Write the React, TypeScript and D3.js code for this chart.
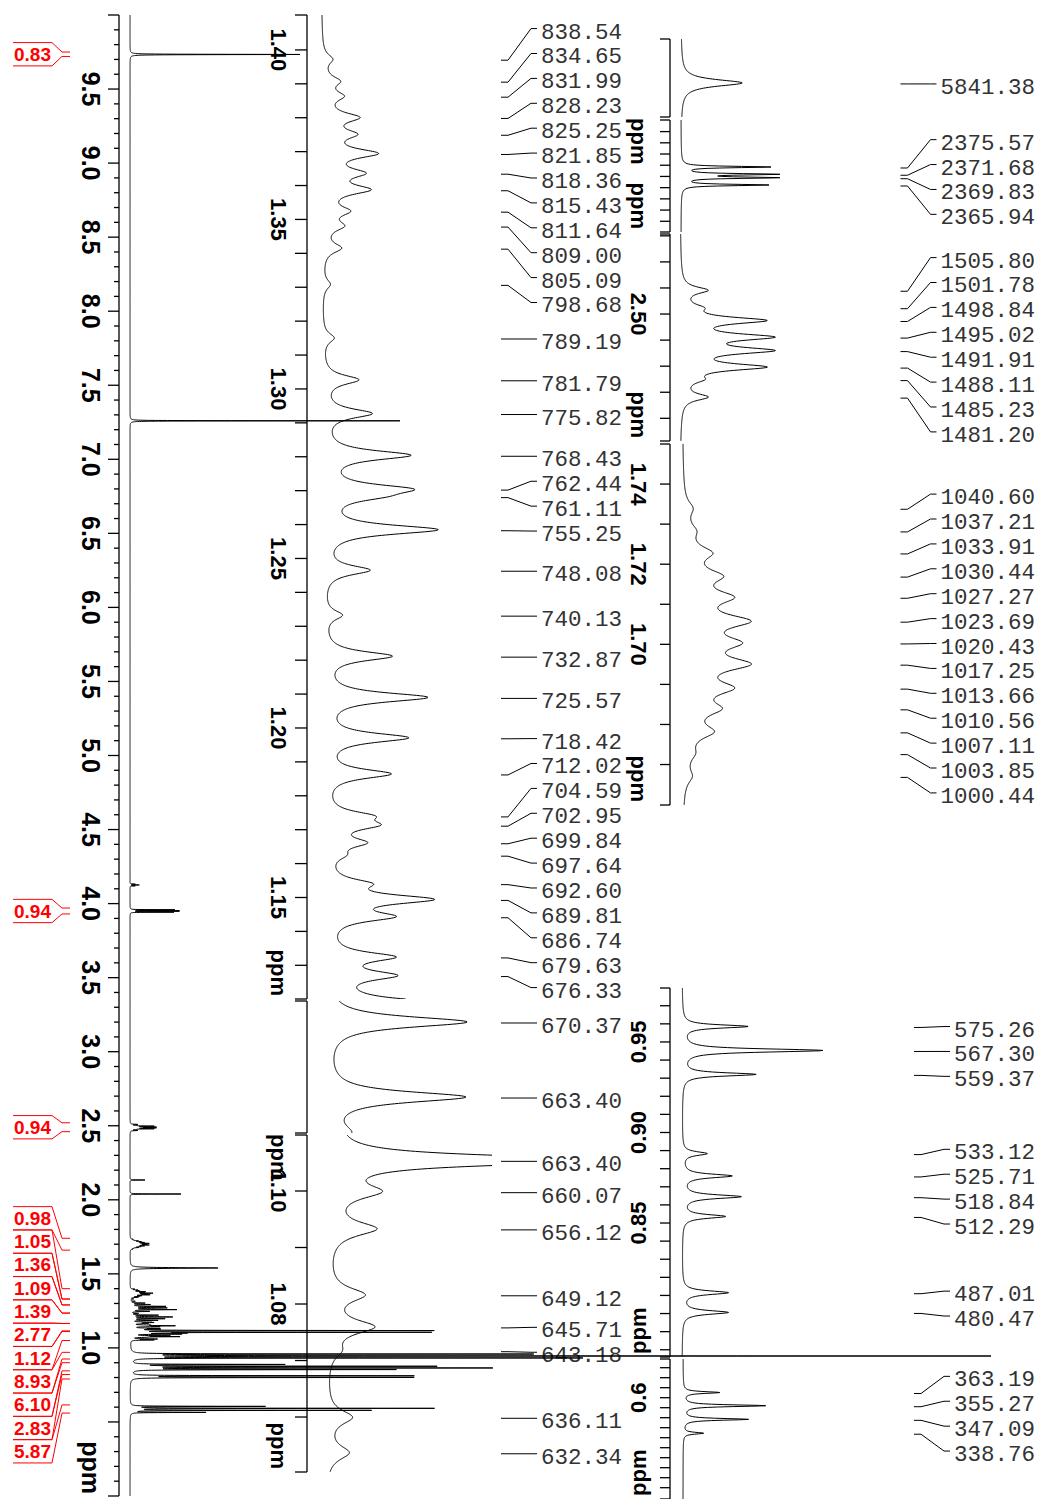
import React from 'react';
import * as d3 from 'd3';

const SF = 600.13;

// ---------- peak data (Hz, intensity) ----------
const aldehydeHz = [5841.38];
const aldehydeInt = [170];
const solventHz = [4356.9];
const solventInt = [270];
const m412Hz = [2479.5, 2476.0, 2472.5];
const m412Int = [5, 9, 5];
const quartetHz = [2375.57, 2371.68, 2369.83, 2365.94];
const quartetInt = [44, 46, 46, 43];
const m250Hz = [1505.8, 1501.78, 1498.84, 1495.02, 1491.91, 1488.11, 1485.23, 1481.2];
const m250Int = [7, 4, 22, 23, 23, 22, 4, 7];
const s213Hz = [1280.5];
const s213Int = [15];
const s204Hz = [1223.7];
const s204Int = [51];
const waterHz = [924.0];
const waterInt = [88];
const m172Hz = [1040.6, 1037.21, 1033.91, 1030.44, 1027.27, 1023.69, 1020.43, 1017.25, 1013.66, 1010.56, 1007.11, 1003.85, 1000.44];
const m172Int = [2.2, 2.4, 6.5, 8.5, 11, 15.5, 12, 15.5, 11, 8, 7, 2, 2];
const m135Hz = [838.54, 834.65, 831.99, 828.23, 825.25, 821.85, 818.36, 815.43, 811.64, 809.0, 805.09, 798.68, 789.19, 781.79, 775.82];
const m135Int = [3.8, 6, 7, 13, 11, 20, 14, 17, 9, 7, 7, 3, 4.5, 14, 19];
const m122Hz = [768.43, 762.44, 761.11, 755.25, 748.08, 740.13, 732.87, 725.57, 718.42, 712.02, 704.59, 702.95, 699.84, 697.64, 692.6, 689.81, 686.74, 679.63, 676.33];
const m122Int = [34, 30, 14, 45, 18, 7, 27, 41, 33, 26, 15, 17, 14, 5, 14, 40, 24, 25, 24];
const m111Hz = [670.37, 663.4];
const m111Int = [300, 295];
const m107Hz = [660.07, 656.12, 649.12, 645.71, 643.18, 636.11, 632.34];
const m107Int = [44, 46, 35, 45, 10, 25, 22];
const t095Hz = [575.26, 567.3, 559.37];
const t095Int = [397, 855, 446];
const m087Hz = [533.12, 525.71, 518.84, 512.29];
const m087Int = [150, 300, 355, 260];
const d081Hz = [487.01, 480.47];
const d081Int = [280, 280];
const m058Hz = [363.19, 355.27, 347.09, 338.76];
const m058Int = [133, 302, 239, 74];

// ---------- integrals ----------
const integralValues = ['0.83', '0.94', '0.94', '0.98', '1.05', '1.36', '1.09', '1.39', '2.77', '1.12', '8.93', '6.10', '2.83', '5.87'];
const integralFrom = [9.75, 3.97, 2.52, 1.74, 1.4, 1.33, 1.29, 1.235, 1.165, 1.11, 0.97, 0.9, 0.82, 0.615];
const integralTo = [9.72, 3.93, 2.46, 1.66, 1.33, 1.29, 1.235, 1.165, 1.115, 1.05, 0.925, 0.845, 0.79, 0.56];

// ---------- inset label lists ----------
const labelsA = [...m135Hz, ...m122Hz];
const labelsB = [...m111Hz];
const labelsC = [663.4, ...m107Hz];
const labelsD1 = [...aldehydeHz];
const labelsD2 = [...quartetHz];
const labelsE = [...m250Hz];
const labelsF = [...m172Hz];
const labelsG = [...t095Hz, ...m087Hz, ...d081Hz];
const labelsH = [...m058Hz];

type Peak = { ppm: number; h: number; w: number };
const groups: [number[], number[], number][] = [
  [aldehydeHz, aldehydeInt, 1.5],
  [solventHz, solventInt, 1.0],
  [m412Hz, m412Int, 1.2],
  [quartetHz, quartetInt, 0.9],
  [m250Hz, m250Int, 1.8],
  [s213Hz, s213Int, 1.2],
  [s204Hz, s204Int, 1.0],
  [waterHz, waterInt, 3.0],
  [m172Hz, m172Int, 2.4],
  [m135Hz, m135Int, 2.0],
  [m122Hz, m122Int, 2.0],
  [m111Hz, m111Int, 1.2],
  [m107Hz, m107Int, 1.8],
  [t095Hz, t095Int, 1.3],
  [m087Hz, m087Int, 1.5],
  [d081Hz, d081Int, 1.5],
  [m058Hz, m058Int, 1.3],
];
const PEAKS: Peak[] = groups.flatMap(([hz, ints, w]) => hz.map((f, i) => ({ ppm: f / SF, h: ints[i], w })));

function spec(ppm: number): number {
  let s = 0;
  for (const p of PEAKS) {
    const d = (2 * (ppm - p.ppm) * SF) / p.w;
    s += p.h / (1 + d * d);
  }
  return s;
}

function spread(ideal: number[], gap: number, shiftMulti = 0): number[] {
  type C = { start: number; n: number; s: number; t: number };
  const cs: C[] = [];
  ideal.forEach((y, i) => {
    let c: C = { start: i, n: 1, s: y, t: y };
    while (cs.length) {
      const p = cs[cs.length - 1];
      if (p.t + p.n * gap > c.t) {
        const s = p.s + c.s - p.n * gap * c.n;
        const n = p.n + c.n;
        c = { start: p.start, n, s, t: s / n };
        cs.pop();
      } else break;
    }
    cs.push(c);
  });
  const out: number[] = new Array(ideal.length);
  cs.forEach((c) => {
    for (let k = 0; k < c.n; k++) out[c.start + k] = c.t + k * gap + (c.n > 1 ? shiftMulti : 0);
  });
  return out;
}

type Col = { axisX: number; tickLen: number; labelX: number; clipX: number; hzRight: number };
const cols: Record<number, Col> = {
  1: { axisX: 307, tickLen: 12, labelX: 278, clipX: 492, hzRight: 622 },
  2: { axisX: 670, tickLen: 10, labelX: 638.5, clipX: 1000, hzRight: 1035 },
};

type Inset = {
  id: string; col: number; y0: number; y1: number; top: number; bottom: number;
  gain: number; base: number; tick: number | null; label: number | null;
  ppm: 'in' | 'out'; rot: number; labels: number[];
};
const insets: Inset[] = [
  { id: 'A', col: 1, y0: 15, y1: 999, top: 1.4103, bottom: 1.12006, gain: 2.5, base: 321, tick: 0.01, label: 0.05, ppm: 'in', rot: 90, labels: labelsA },
  { id: 'B', col: 1, y0: 1001, y1: 1133, top: 1.12029, bottom: 1.09986, gain: 0.467, base: 325, tick: null, label: null, ppm: 'out', rot: 90, labels: labelsB },
  { id: 'C', col: 1, y0: 1135, y1: 1472, top: 1.10991, bottom: 1.05027, gain: 1.0, base: 325, tick: 0.01, label: 0.02, ppm: 'in', rot: 90, labels: labelsC },
  { id: 'D1', col: 2, y0: 39, y1: 117, top: 9.74725, bottom: 9.72288, gain: 0.36, base: 681, tick: null, label: null, ppm: 'out', rot: 90, labels: labelsD1 },
  { id: 'D2', col: 2, y0: 120, y1: 232, top: 4.00035, bottom: 3.90044, gain: 2.0, base: 681, tick: 0.01, label: 0.05, ppm: 'in', rot: 90, labels: labelsD2 },
  { id: 'E', col: 2, y0: 234, y1: 441, top: 2.5307, bottom: 2.4513, gain: 3.6, base: 680, tick: 0.01, label: 0.05, ppm: 'in', rot: 90, labels: labelsE },
  { id: 'F', col: 2, y0: 444, y1: 805, top: 1.75, bottom: 1.6599, gain: 3.6, base: 682, tick: 0.01, label: 0.02, ppm: 'in', rot: 90, labels: labelsF },
  { id: 'G', col: 2, y0: 988, y1: 1357, top: 0.9798, bottom: 0.776, gain: 0.1637, base: 682, tick: 0.01, label: 0.05, ppm: 'in', rot: -90, labels: labelsG },
  { id: 'H', col: 2, y0: 1359, y1: 1499, top: 0.6387, bottom: 0.4987, gain: 0.2715, base: 683, tick: 0.01, label: 0.1, ppm: 'in', rot: -90, labels: labelsH },
];

const BOLD = 'Liberation Sans, Arial, Helvetica, sans-serif';
const MONO = 'Liberation Mono, DejaVu Sans Mono, monospace';
const insetFs = 22;
const mainFs = 25;
const hzFs = 22.5;

const numLen = (s: string, fs: number) =>
  fs * s.split('').reduce((a, ch) => a + (ch === '.' ? 0.278 : 0.556), 0);
const ppmLen = (fs: number) => fs * 2.111;

function RotText({ x, y, rot, fs, text, fill = '#000', weight = 'bold' }: any) {
  return (
    <text
      transform={`translate(${x},${y}) rotate(${rot})`}
      textAnchor="middle"
      dominantBaseline="central"
      fontFamily={BOLD}
      fontWeight={weight}
      fontSize={fs}
      fill={fill}
    >
      {text}
    </text>
  );
}

function multiples(a: number, b: number, step: number): number[] {
  const lo = Math.min(a, b), hi = Math.max(a, b);
  const out: number[] = [];
  for (let k = Math.ceil(lo / step - 1e-6); k <= Math.floor(hi / step + 1e-6); k++) out.push(k * step);
  return out;
}

function InsetView({ cfg }: { cfg: Inset }) {
  const col = cols[cfg.col];
  const y = d3.scaleLinear().domain([cfg.top, cfg.bottom]).range([cfg.y0, cfg.y1]);
  const pts = d3
    .range(cfg.y0, cfg.y1 + 0.01, 0.4)
    .map((v) => y.invert(v))
    .concat(PEAKS.filter((p) => p.ppm <= cfg.top && p.ppm >= cfg.bottom).map((p) => p.ppm))
    .sort((a, b) => b - a);
  const line = d3
    .line<number>()
    .x((p) => cfg.base + cfg.gain * spec(p))
    .y((p) => y(p));
  const clipId = `clip-${cfg.id}`;
  const ax = col.axisX;
  const pl = ppmLen(insetFs);
  const ppmC = cfg.ppm === 'in' ? cfg.y1 - pl / 2 - 3 : cfg.y1 + pl / 2 + 1;

  const ticks = cfg.tick ? multiples(cfg.top, cfg.bottom, cfg.tick).map((v) => y(v)).filter((yy) => Math.abs(yy - cfg.y0) > 1.5 && Math.abs(yy - cfg.y1) > 1.5) : [];
  const labels: { yy: number; t: string }[] = [];
  if (cfg.label) {
    const dec = cfg.label >= 0.1 ? 1 : 2;
    multiples(cfg.top, cfg.bottom, cfg.label).forEach((v) => {
      const t = v.toFixed(dec);
      const yy = y(v);
      const L = numLen(t, insetFs);
      if (yy - L / 2 < cfg.y0 || yy + L / 2 > cfg.y1) return;
      if (Math.abs(yy - ppmC) < (L + pl) / 2 + 14) return;
      labels.push({ yy, t });
    });
  }
  return (
    <g>
      <clipPath id={clipId}>
        <rect x={0} y={cfg.y0} width={col.clipX} height={cfg.y1 - cfg.y0} />
      </clipPath>
      <path d={line(pts) || ''} fill="none" stroke="#000" strokeWidth={1} clipPath={`url(#${clipId})`} />
      <line x1={ax} x2={ax} y1={cfg.y0} y2={cfg.y1} stroke="#000" strokeWidth={1.3} />
      <line x1={ax - col.tickLen} x2={ax} y1={cfg.y0} y2={cfg.y0} stroke="#000" strokeWidth={1.3} />
      <line x1={ax - col.tickLen} x2={ax} y1={cfg.y1} y2={cfg.y1} stroke="#000" strokeWidth={1.3} />
      {ticks.map((yy, i) => (
        <line key={i} x1={ax - col.tickLen} x2={ax} y1={yy} y2={yy} stroke="#000" strokeWidth={1.3} />
      ))}
      {labels.map((l, i) => (
        <RotText key={i} x={col.labelX} y={l.yy} rot={cfg.rot} fs={insetFs} text={l.t} />
      ))}
      <RotText x={col.labelX} y={ppmC} rot={cfg.rot} fs={insetFs} text="ppm" />
    </g>
  );
}

function HzLabels({ colId }: { colId: number }) {
  const col = cols[colId];
  const entries: { hz: number; py: number }[] = [];
  insets
    .filter((c) => c.col === colId)
    .forEach((cfg) => {
      const y = d3.scaleLinear().domain([cfg.top, cfg.bottom]).range([cfg.y0, cfg.y1]);
      cfg.labels.forEach((hz) => entries.push({ hz, py: y(hz / SF) }));
    });
  entries.sort((a, b) => a.py - b.py);
  const pos = spread(entries.map((e) => e.py), 24.9);
  return (
    <g>
      {entries.map((e, i) => {
        const t = e.hz.toFixed(2);
        const start = col.hzRight - t.length * 0.6 * hzFs;
        const x0 = start - 40;
        const x1 = start - 4;
        const ly = pos[i] + 1;
        return (
          <g key={i}>
            <path d={`M${x0},${e.py + 1}H${x0 + 7}L${x1 - 6},${ly}H${x1}`} fill="none" stroke="#000" strokeWidth={1} />
            <text x={col.hzRight} y={ly + 4} textAnchor="end" dominantBaseline="central" fontFamily={MONO} fontSize={hzFs} fill="#333">
              {t}
            </text>
          </g>
        );
      })}
    </g>
  );
}

export default function App() {
  const yMain = d3.scaleLinear().domain([10, 0]).range([15, 1496]);
  const mainPts = d3
    .range(0, 10.00001, 0.0005)
    .concat(PEAKS.map((p) => p.ppm))
    .sort((a, b) => b - a);
  const mainLine = d3
    .line<number>()
    .x((p) => 130 + spec(p))
    .y((p) => yMain(p));

  const axX = 119;
  const mainTicks = d3.range(0, 101).map((k) => ({ k, yy: yMain(k / 10) }));
  const mPl = ppmLen(mainFs);
  const mPpmC = 1496 - mPl / 2 - 2;
  const mainLabels = mainTicks
    .filter((t) => t.k % 5 === 0)
    .map((t) => ({ yy: t.yy, s: (t.k / 10).toFixed(1) }))
    .filter((l) => {
      const L = numLen(l.s, mainFs);
      if (l.yy - L / 2 < 15 || l.yy + L / 2 > 1496) return false;
      if (Math.abs(l.yy - mPpmC) < (L + mPl) / 2 + 14) return false;
      return true;
    });

  const intIdeal = integralFrom.map((f, i) => (yMain(f) + yMain(integralTo[i])) / 2);
  const intPos = spread(intIdeal, 23.3, 4);

  return (
    <svg width={1039} height={1499} style={{ position: 'absolute', left: 0, top: 0, background: '#fff' }}>
      <rect x={0} y={0} width={1039} height={1499} fill="#fff" />
      {insets.map((cfg) => (
        <InsetView key={cfg.id} cfg={cfg} />
      ))}
      <HzLabels colId={1} />
      <HzLabels colId={2} />

      {/* main axis */}
      <line x1={axX} x2={axX} y1={15} y2={1496} stroke="#000" strokeWidth={1.3} />
      {mainTicks.map((t) => (
        <line key={t.k} x1={t.k % 5 === 0 ? axX - 11 : axX - 5} x2={axX} y1={t.yy} y2={t.yy} stroke="#000" strokeWidth={1.3} />
      ))}
      {mainLabels.map((l, i) => (
        <RotText key={i} x={91} y={l.yy} rot={90} fs={mainFs} text={l.s} />
      ))}
      <RotText x={91} y={mPpmC} rot={90} fs={mainFs} text="ppm" />

      {/* main spectrum */}
      <path d={mainLine(mainPts) || ''} fill="none" stroke="#000" strokeWidth={1} />

      {/* integrals */}
      {integralValues.map((v, i) => {
        const c = intPos[i];
        const top = c - 11.65;
        const bot = c + 11.65;
        const yA = yMain(integralFrom[i]);
        const yB = yMain(integralTo[i]);
        return (
          <g key={i}>
            <path d={`M13,${top}H52L62,${yA}H70`} fill="none" stroke="#f00" strokeWidth={1} />
            <path d={`M13,${bot}H52L62,${yB}H70`} fill="none" stroke="#f00" strokeWidth={1} />
            <text x={32.5} y={c} textAnchor="middle" dominantBaseline="central" fontFamily={BOLD} fontWeight="bold" fontSize={19} fill="#f00">
              {v}
            </text>
          </g>
        );
      })}
    </svg>
  );
}
